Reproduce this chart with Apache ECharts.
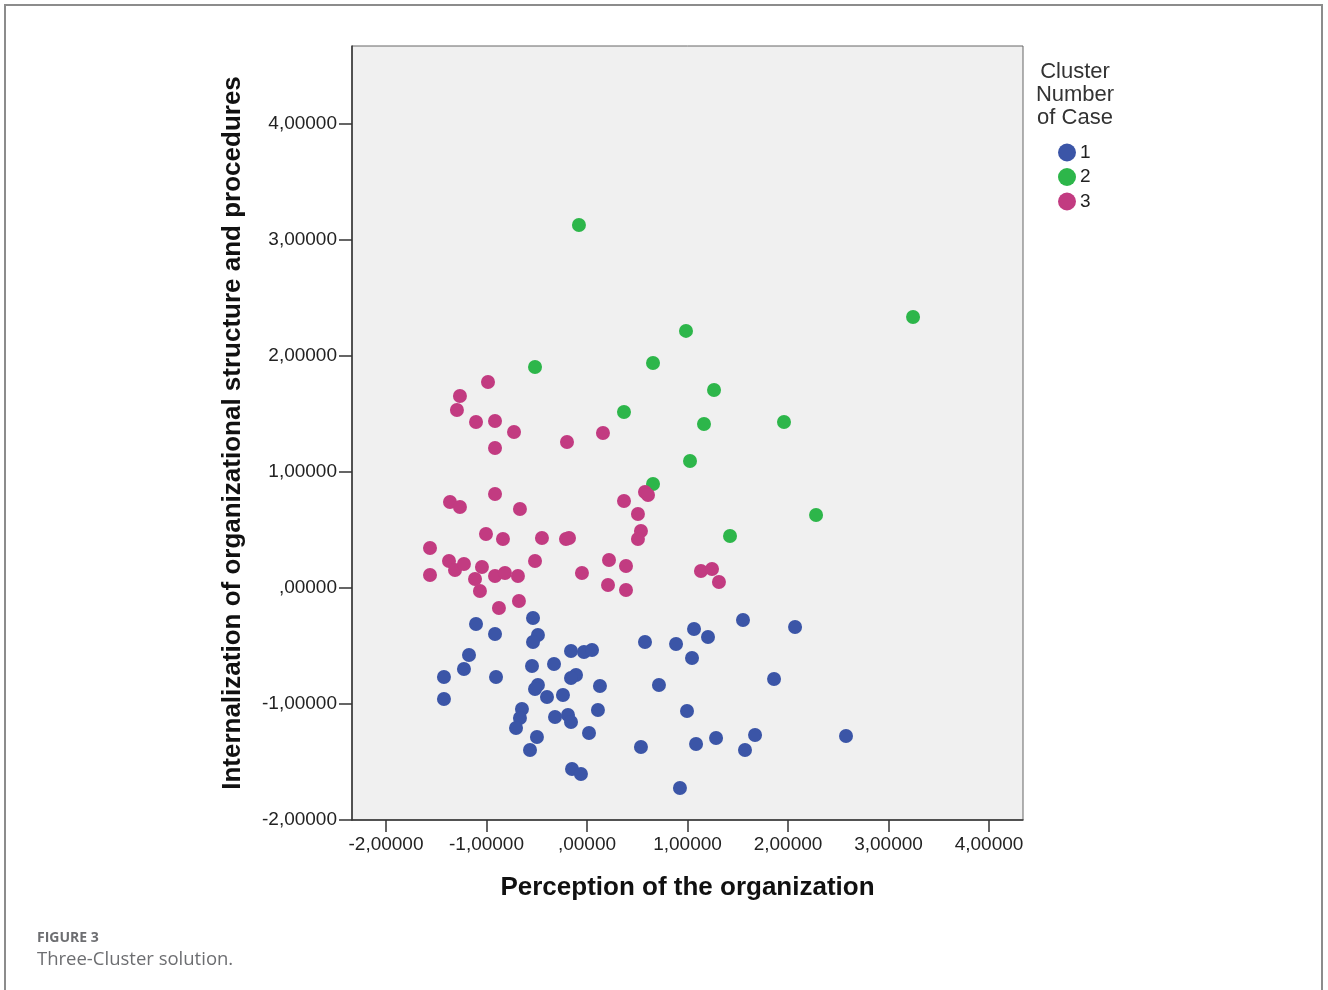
<!DOCTYPE html>
<html>
<head>
<meta charset="utf-8">
<script src="https://cdn.jsdelivr.net/npm/echarts@6/dist/echarts.min.js"></script>
<style>
html,body{margin:0;padding:0;background:#fff;}
#chart{width:1328px;height:990px;}
</style>
</head>
<body>
<div id="chart"></div>
<script>
// ---- Data ----
const xTickValues = [-2, -1, 0, 1, 2, 3, 4];
const yTickValues = [-2, -1, 0, 1, 2, 3, 4];
const legendNames = ['1', '2', '3'];
const legendTitle = 'Cluster\nNumber\nof Case';
const xName = 'Perception of the organization';
const yName = 'Internalization of organizational structure and procedures';
const captionLabel = 'FIGURE 3';
const captionText = 'Three-Cluster solution.';

// Cluster 1 (blue)
const cluster1 = [
  [-0.537,-0.259],[-1.104,-0.310],[-0.915,-0.397],[-0.488,-0.405],[-0.537,-0.466],
  [-1.174,-0.578],[-1.224,-0.698],[-1.423,-0.767],[-1.423,-0.957],[-0.905,-0.767],
  [-0.547,-0.672],[-0.328,-0.655],[-0.159,-0.543],[-0.030,-0.552],[0.050,-0.534],
  [-0.109,-0.750],[-0.159,-0.776],[0.129,-0.845],[-0.488,-0.836],[-0.517,-0.871],
  [-0.398,-0.940],[-0.239,-0.922],[-0.647,-1.043],[-0.667,-1.121],[-0.706,-1.207],
  [-0.318,-1.112],[-0.189,-1.095],[-0.159,-1.155],[0.109,-1.052],[-0.498,-1.284],
  [-0.567,-1.397],[0.020,-1.250],[-0.149,-1.560],[-0.060,-1.603],[0.577,-0.466],
  [0.886,-0.483],[1.065,-0.353],[1.204,-0.422],[1.045,-0.603],[0.716,-0.836],
  [0.995,-1.060],[0.537,-1.371],[1.085,-1.345],[1.284,-1.293],[0.925,-1.724],
  [1.552,-0.276],[2.070,-0.336],[1.861,-0.784],[2.577,-1.276],[1.672,-1.267],
  [1.572,-1.397]
];
// Cluster 2 (green)
const cluster2 = [
  [-0.080,3.129],[3.244,2.336],[0.985,2.216],[-0.517,1.905],[0.657,1.940],
  [1.264,1.707],[0.368,1.517],[1.164,1.414],[1.960,1.431],[1.025,1.095],
  [0.657,0.897],[2.279,0.629],[1.423,0.448]
];
// Cluster 3 (magenta)
const cluster3 = [
  [-0.985,1.776],[-1.264,1.655],[-1.294,1.534],[-1.104,1.431],[-0.915,1.440],
  [-0.726,1.345],[-0.915,1.207],[-0.199,1.259],[0.159,1.336],[-0.915,0.810],
  [-1.363,0.741],[-1.264,0.698],[-0.667,0.681],[0.368,0.750],[0.577,0.828],
  [0.607,0.802],[0.507,0.638],[0.537,0.491],[0.507,0.422],[-1.005,0.466],
  [-0.836,0.422],[-0.448,0.431],[-0.209,0.422],[-0.179,0.431],[-1.562,0.345],
  [-1.373,0.233],[-1.313,0.155],[-1.224,0.207],[-1.045,0.181],[-1.114,0.078],
  [-0.915,0.103],[-0.816,0.129],[-0.687,0.103],[-1.562,0.112],[-0.517,0.233],
  [-0.050,0.129],[0.219,0.241],[0.388,0.190],[0.209,0.026],[0.388,-0.017],
  [1.134,0.147],[1.244,0.164],[1.313,0.052],[-1.065,-0.026],[-0.677,-0.112],
  [-0.876,-0.172]
];

// ---- Styles ----
const FONT = "'Liberation Sans', Arial, sans-serif";
const colors = ['#3b55a7', '#2db64a', '#c23b81'];
const tickFmt = function (v) {
  let s = Math.abs(v).toFixed(5).replace('.', ',');
  if (Math.abs(v) < 1) s = s.replace(/^0/, '');
  return (v < 0 ? '-' : '') + s;
};

const chart = echarts.init(document.getElementById('chart'), null, {renderer: 'canvas'});
const option = {
  animation: false,
  backgroundColor: '#ffffff',
  grid: [
    {left: 352, right: 305, top: 46, bottom: 170, show: true,
     backgroundColor: '#f0f0f0', borderColor: '#666', borderWidth: 1, outerBoundsMode: 'none'},
    {left: 386, right: 339, top: 124, bottom: 170, show: false, outerBoundsMode: 'none'}
  ],
  xAxis: [
    {type: 'value', gridIndex: 0, min: -2.338, max: 4.338,
     axisLine: {show: true, onZero: false, lineStyle: {color: '#333', width: 1.5}},
     axisTick: {show: false}, axisLabel: {show: false}, splitLine: {show: false},
     name: xName, nameLocation: 'middle', nameGap: 55,
     nameTextStyle: {fontFamily: FONT, fontWeight: 'bold', fontSize: 26, color: '#111'}},
    {type: 'value', gridIndex: 1, min: xTickValues[0], max: xTickValues[xTickValues.length - 1], interval: 1,
     axisLine: {show: false, onZero: false},
     axisTick: {show: true, length: 12, lineStyle: {color: '#333', width: 1.5}},
     axisLabel: {show: true, margin: 15, fontFamily: FONT, fontSize: 19, color: '#222', formatter: tickFmt},
     splitLine: {show: false}}
  ],
  yAxis: [
    {type: 'value', gridIndex: 0, min: -2, max: 4.672,
     axisLine: {show: true, onZero: false, lineStyle: {color: '#333', width: 1.5}},
     axisTick: {show: false}, axisLabel: {show: false}, splitLine: {show: false},
     name: yName, nameLocation: 'middle', nameGap: 106,
     nameTextStyle: {fontFamily: FONT, fontWeight: 'bold', fontSize: 26, color: '#111'}},
    {type: 'value', gridIndex: 1, min: yTickValues[0], max: yTickValues[yTickValues.length - 1], interval: 1,
     offset: 34,
     axisLine: {show: false, onZero: false},
     axisTick: {show: true, length: 13, lineStyle: {color: '#333', width: 1.5}},
     axisLabel: {show: true, margin: 15, fontFamily: FONT, fontSize: 19, color: '#222', formatter: tickFmt},
     splitLine: {show: false}}
  ],
  legend: {
    orient: 'vertical', left: 1058, top: 143, padding: 0,
    itemWidth: 18, itemHeight: 18, itemGap: 5.5, icon: 'circle',
    data: legendNames,
    textStyle: {fontFamily: FONT, fontSize: 19, color: '#222', padding: [0, 0, 0, -1]}
  },
  graphic: [
    {type: 'rect', shape: {x: 5, y: 5, width: 1317, height: 1010},
     style: {fill: 'none', stroke: '#8c8c8c', lineWidth: 2}, silent: true},
    {type: 'text', x: 1075, y: 60,
     style: {text: legendTitle, textAlign: 'center', fontFamily: FONT, fontSize: 22, lineHeight: 23, fill: '#333'}},
    {type: 'text', x: 37, y: 931,
     style: {text: captionLabel, fontFamily: "'Open Sans', sans-serif", fontWeight: 'bold', fontSize: 14, fill: '#6d6e71'}},
    {type: 'text', x: 37, y: 950,
     style: {text: captionText, fontFamily: "'Open Sans', sans-serif", fontSize: 18.5, fill: '#6d6e71'}}
  ],
  series: [
    {name: legendNames[0], type: 'scatter', xAxisIndex: 0, yAxisIndex: 0, symbolSize: 14,
     itemStyle: {color: colors[0], opacity: 1}, data: cluster1},
    {name: legendNames[1], type: 'scatter', xAxisIndex: 0, yAxisIndex: 0, symbolSize: 14,
     itemStyle: {color: colors[1], opacity: 1}, data: cluster2},
    {name: legendNames[2], type: 'scatter', xAxisIndex: 0, yAxisIndex: 0, symbolSize: 14,
     itemStyle: {color: colors[2], opacity: 1}, data: cluster3}
  ]
};
chart.setOption(option);
</script>
</body>
</html>
